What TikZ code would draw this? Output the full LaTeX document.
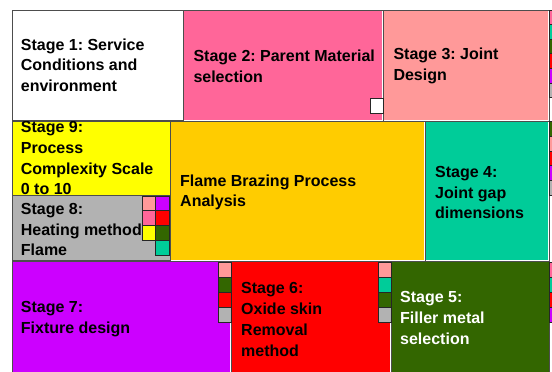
\documentclass[tikz,border=0pt]{standalone}
\usepackage{fontspec}
\setmainfont{Liberation Sans}
\frenchspacing
\definecolor{edgegray}{HTML}{4D4D4D}
\definecolor{rosepink}{HTML}{FF6699}
\definecolor{salmon}{HTML}{FF9999}
\definecolor{lemon}{HTML}{FFFF00}
\definecolor{silver}{HTML}{B2B2B2}
\definecolor{amber}{HTML}{FFCC00}
\definecolor{seagreen}{HTML}{00CC99}
\definecolor{violet}{HTML}{CC00FF}
\definecolor{scarlet}{HTML}{FF0000}
\definecolor{olive}{HTML}{336600}

\begin{document}
\begin{tikzpicture}[
    x=1bp, y=-1bp,
    box/.style={draw=edgegray, line width=0.8bp},
    rim/.style={draw=white, line width=0.8bp},
    swatch/.style={draw=black!85, line width=0.7bp},
    stagetext/.style={anchor=west, align=left, inner sep=0pt, font=\bfseries\fontsize{16bp}{20.7bp}\selectfont}
]
\useasboundingbox (0,0) rectangle (552,371);
\clip (0,0) rectangle (552,371);

% Top row
\draw[box, fill=white] (12,10) rectangle (183.5,120.7);
\draw[box, fill=rosepink] (183.5,10) rectangle (383.3,120.7);
\draw[box, fill=salmon] (383.3,10) rectangle (549.3,120.7);
\draw[rim] (382.5,11) -- (382.5,119.9) -- (184.3,119.9);
\draw[rim] (548.5,11) -- (548.5,119.9) -- (384.1,119.9);

% Middle row
\draw[box, fill=lemon] (12,121.5) rectangle (170,195.7);
\draw[box, fill=silver] (12,195.7) rectangle (170,260.7);
\draw[box, fill=amber] (170,121.5) rectangle (425,260.7);
\draw[box, fill=seagreen] (425,121.5) rectangle (549.3,260.7);
\draw[rim] (424.2,122.3) -- (424.2,259.9) -- (170.8,259.9);
\draw[rim] (548.5,122.3) -- (548.5,259.9) -- (425.8,259.9);

% Bottom row
\draw[box, fill=violet] (12,261.5) rectangle (231,375);
\draw[box, fill=scarlet] (231,261.5) rectangle (391,375);
\draw[box, fill=olive] (391,261.5) rectangle (549.3,375);
\draw[rim] (230.2,262.3) -- (230.2,375);
\draw[rim] (390.2,262.3) -- (390.2,375);

% Stage labels
\node[stagetext] (stage1) at (20.7,65) {Stage 1: Service\\Conditions and\\environment};
\node[stagetext] (stage2) at (193.3,66) {Stage 2: Parent Material\\selection};
\node[stagetext] (stage3) at (393.3,66) {Stage 3: Joint\\Design};
\begin{scope}
    \clip (12,121.5) rectangle (170,195.7);
    \node[stagetext] (stage9) at (20.7,158.3) {Stage 9:\\Process\\Complexity Scale\\0 to 10};
\end{scope}
\node[stagetext] (stage8) at (20.7,229.5) {Stage 8:\\Heating method\\Flame};
\node[stagetext] (brazing) at (180,192.5) {Flame Brazing Process\\Analysis};
\node[stagetext] (stage4) at (435,192.5) {Stage 4:\\Joint gap\\dimensions};
\node[stagetext] (stage7) at (20.7,319) {Stage 7:\\Fixture design};
\node[stagetext] (stage6) at (241,319.5) {Stage 6:\\Oxide skin\\Removal\\method};
\node[stagetext, text=white] (stage5) at (400,318) {Stage 5:\\Filler metal\\selection};

% Colour swatches
\draw[swatch, fill=white] (370,98) rectangle (383,113.5);
\foreach \c [count=\i from 0] in {rosepink,seagreen,olive,scarlet,violet,silver}
    \draw[swatch, fill=\c] (549.3,10+14.6*\i) rectangle ++(14,14.6);
\foreach \c [count=\i from 0] in {olive,salmon,scarlet,violet,silver}
    \draw[swatch, fill=\c] (549.3,121.5+14.7*\i) rectangle ++(14,14.7);
\foreach \c [count=\i from 0] in {rosepink,seagreen,scarlet,violet}
    \draw[swatch, fill=\c] (549.3,262+15*\i) rectangle ++(14,15);
\foreach \c [count=\i from 0] in {salmon,rosepink,lemon}
    \draw[swatch, fill=\c] (142.3,196+14.8*\i) rectangle ++(13.4,14.8);
\foreach \c [count=\i from 0] in {violet,scarlet,olive,seagreen}
    \draw[swatch, fill=\c] (155.7,196+14.8*\i) rectangle ++(13.4,14.8);
\foreach \c [count=\i from 0] in {salmon,olive,scarlet,silver}
    \draw[swatch, fill=\c] (218,262+15*\i) rectangle ++(13,15);
\foreach \c [count=\i from 0] in {salmon,seagreen,olive,silver}
    \draw[swatch, fill=\c] (378,262+15*\i) rectangle ++(13,15);

\end{tikzpicture}
\end{document}
